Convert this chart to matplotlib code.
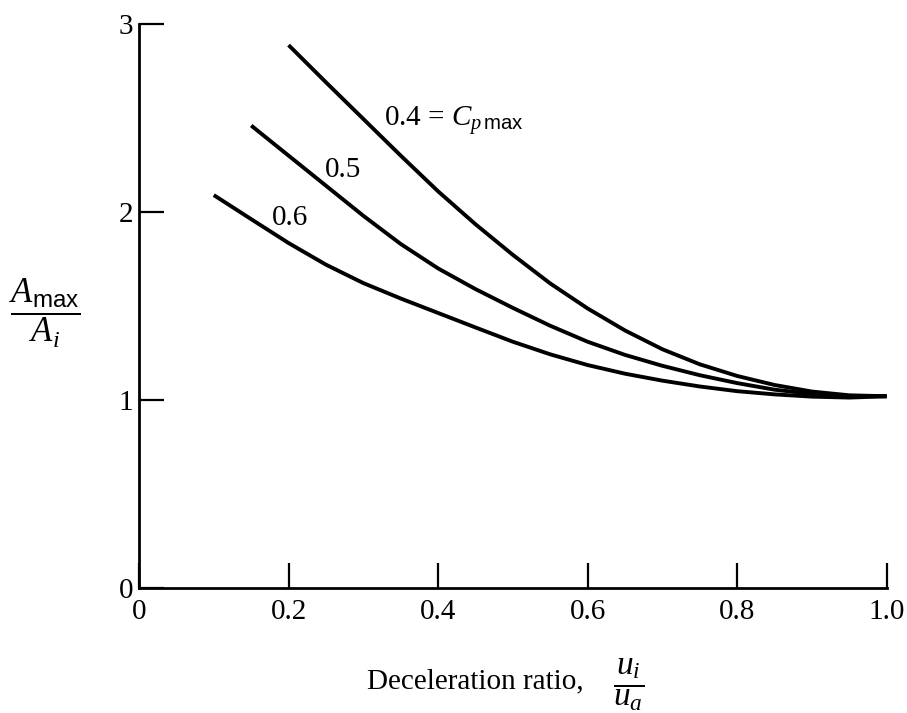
import matplotlib
matplotlib.use('Agg')
import matplotlib.pyplot as plt

plt.rcParams['font.family'] = ['Liberation Serif', 'DejaVu Serif']
plt.rcParams['mathtext.fontset'] = 'custom'
plt.rcParams['mathtext.rm'] = 'Liberation Serif'
plt.rcParams['mathtext.it'] = 'Liberation Serif:italic'
plt.rcParams['mathtext.sf'] = 'Liberation Sans'

# curves: A_max / A_i vs u_i / u_a
x04 = [0.20, 0.25, 0.30, 0.35, 0.40, 0.45, 0.50, 0.55, 0.60, 0.65, 0.70, 0.75, 0.80, 0.85, 0.90, 0.95, 1.00]
y04 = [2.888, 2.69, 2.495, 2.30, 2.11, 1.935, 1.772, 1.62, 1.487, 1.37, 1.27, 1.19, 1.128, 1.08, 1.045, 1.025, 1.02]

x05 = [0.15, 0.20, 0.25, 0.30, 0.35, 0.40, 0.45, 0.50, 0.55, 0.60, 0.65, 0.70, 0.75, 0.80, 0.85, 0.90, 0.95, 1.00]
y05 = [2.46, 2.30, 2.14, 1.98, 1.83, 1.70, 1.59, 1.49, 1.395, 1.31, 1.24, 1.182, 1.132, 1.09, 1.055, 1.032, 1.02, 1.02]

x06 = [0.10, 0.15, 0.20, 0.25, 0.30, 0.35, 0.40, 0.45, 0.50, 0.55, 0.60, 0.65, 0.70, 0.75, 0.80, 0.85, 0.90, 0.95, 1.00]
y06 = [2.09, 1.962, 1.835, 1.72, 1.622, 1.54, 1.463, 1.386, 1.31, 1.243, 1.186, 1.14, 1.103, 1.072, 1.047, 1.03, 1.018, 1.013, 1.02]

xticks = [0, 0.2, 0.4, 0.6, 0.8, 1.0]
xtick_labels = ['0', '0.2', '0.4', '0.6', '0.8', '1.0']
yticks = [0, 1, 2, 3]

fig = plt.figure(figsize=(9.07, 7.13), dpi=100)
ax = fig.add_axes([0.1533, 0.1753, 0.8243, 0.791])

for xs, ys in [(x04, y04), (x05, y05), (x06, y06)]:
    ax.plot(xs, ys, color='black', lw=2.8, solid_capstyle='butt', solid_joinstyle='round')

ax.set_xlim(0, 1.0)
ax.set_ylim(0, 3)
ax.set_xticks(xticks)
ax.set_xticklabels(xtick_labels)
ax.set_yticks(yticks)
ax.tick_params(direction='in', length=18, width=1.6, labelsize=21, pad=4)
ax.tick_params(axis='x', pad=8)
for s in ['top', 'right']:
    ax.spines[s].set_visible(False)
for s in ['left', 'bottom']:
    ax.spines[s].set_linewidth(2.0)

ax.text(0.327, 2.46, r'0.4 = $C_{p\,\mathsf{max}}$', fontsize=21, va='baseline')
ax.text(0.249, 2.186, '0.5', fontsize=21, va='baseline')
ax.text(0.178, 1.93, '0.6', fontsize=21, va='baseline')

fig.text(0.05, 0.56, r'$\dfrac{A_{\mathsf{max}}}{A_i}$', fontsize=25, ha='center', va='center')
fig.text(0.405, 0.035, 'Deceleration ratio,', fontsize=21, ha='left', va='baseline')
fig.text(0.693, 0.024, r'$\dfrac{u_i}{u_a}$', fontsize=24, ha='center', va='baseline')

fig.savefig('out.png', dpi=100)
